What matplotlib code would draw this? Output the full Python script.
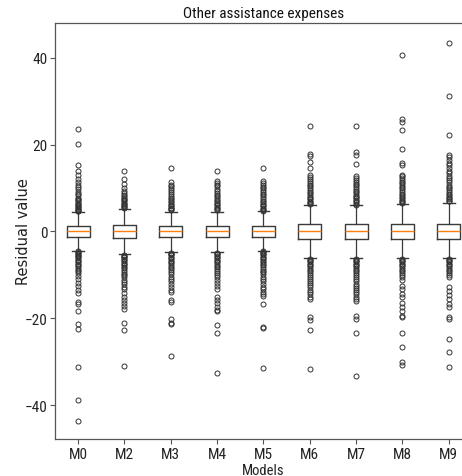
import matplotlib
matplotlib.use("Agg")
import matplotlib.pyplot as plt

NARROW = ["Roboto Condensed", "Noto Sans Condensed", "Open Sans Condensed",
          "Liberation Sans Narrow", "DejaVu Sans Condensed", "Noto Sans", "DejaVu Sans"]

# -- Data -------------------------------------------------------------------
models = ["M0", "M2", "M3", "M4", "M5", "M6", "M7", "M8", "M9"]
med    = [0.0, 0.0, 0.0, 0.0, 0.0, 0.05, 0.05, 0.05, 0.05]
q1     = [-1.2, -1.45, -1.3, -1.3, -1.2, -1.7, -1.7, -1.7, -1.7]
q3     = [1.2, 1.45, 1.15, 1.15, 1.2, 1.8, 1.8, 1.8, 1.8]
whislo = [-4.5, -5.3, -4.7, -4.7, -4.5, -6.2, -6.2, -6.2, -6.2]
whishi = [4.5, 5.1, 4.5, 4.5, 4.8, 6.0, 6.0, 6.4, 6.5]

fl_m0 = [23.6, 20.2, 15.4, 13.9, 12.9, 12.0, 11.4, 10.8, 10.3, 9.7, 9.2, 8.7, 8.3,
         7.8, 7.5, 7.2, 6.9, 6.6, 6.3, 6.0, 5.8, 5.6, 5.4, 5.2, 5.0, 4.8, 4.7,
         -4.6, -4.8, -5.0, -5.2, -5.4, -5.7, -5.9, -6.2, -6.5, -6.8, -7.1, -7.4,
         -7.7, -8.0, -8.4, -8.8, -9.2, -9.6, -10.3, -11.0, -11.8, -12.6, -13.4,
         -14.1, -16.2, -16.8, -18.3, -21.4, -22.5, -31.3, -38.9, -43.6]
fl_m2 = [13.9, 12.0, 11.0, 10.1, 9.3, 8.9, 8.5, 8.1, 7.8, 7.5, 7.2, 6.9, 6.6, 6.3,
         6.1, 5.9, 5.7, 5.5,
         -5.4, -5.6, -5.8, -6.0, -6.3, -6.6, -6.9, -7.2, -7.5, -7.8, -8.1, -8.5,
         -8.9, -9.3, -9.7, -10.1, -10.6, -11.1, -11.6, -12.1, -12.7, -13.3, -14.2,
         -15.0, -15.8, -16.5, -17.2, -17.9, -21.0, -22.7, -31.0]
fl_m3 = [14.5, 11.3, 10.8, 10.4, 10.0, 9.5, 9.0, 8.6, 8.2, 7.8, 7.4, 7.0, 6.7, 6.4,
         6.1, 5.8, 5.5, 5.3, 5.1, 4.9,
         -4.9, -5.1, -5.3, -5.5, -5.8, -6.1, -6.4, -6.7, -7.0, -7.3, -7.7, -8.1,
         -8.5, -8.9, -9.4, -9.9, -10.4, -10.9, -11.5, -12.1, -12.8, -13.4, -14.0,
         -15.8, -16.2, -20.2, -21.0, -21.4, -28.7]
fl_m4 = [13.9, 11.7, 11.2, 10.8, 10.4, 9.7, 9.3, 8.9, 8.5, 8.1, 7.7, 7.3, 6.9, 6.6,
         6.3, 6.0, 5.7, 5.4, 5.2, 5.0,
         -4.9, -5.1, -5.3, -5.6, -5.9, -6.2, -6.5, -6.8, -7.1, -7.5, -7.9, -8.3,
         -8.7, -9.1, -9.6, -10.1, -10.6, -11.2, -11.8, -12.5, -13.3, -15.2, -15.8,
         -16.5, -17.3, -18.0, -18.3, -21.6, -23.5, -32.7]
fl_m5 = [14.5, 11.6, 11.1, 10.7, 10.3, 9.9, 9.5, 9.1, 8.7, 8.3, 7.9, 7.5, 7.1, 6.7,
         6.4, 6.1, 5.8, 5.5, 5.2, 5.0, 4.8,
         -4.5, -4.7, -4.9, -5.2, -5.5, -5.8, -6.1, -6.4, -6.7, -7.0, -7.4, -7.8,
         -8.2, -8.6, -9.0, -9.4, -9.9, -10.4, -10.9, -11.5, -12.1, -12.7, -13.3,
         -14.0, -14.5, -14.9, -16.8, -21.9, -22.3, -31.5]
fl_m6 = [24.4, 17.9, 17.3, 16.0, 14.6, 13.1, 12.6, 12.1, 11.6, 11.2, 10.8, 10.4,
         10.0, 9.6, 9.2, 8.8, 8.4, 8.0, 7.7, 7.4, 7.1, 6.8, 6.5, 6.3,
         -6.3, -6.5, -6.8, -7.1, -7.4, -7.7, -8.0, -8.4, -8.8, -9.2, -9.6, -10.0,
         -10.4, -10.9, -11.4, -11.9, -12.4, -12.9, -13.4, -13.9, -14.4, -15.0,
         -15.6, -19.8, -20.4, -22.7, -31.7]
fl_m7 = [24.4, 18.2, 17.6, 15.6, 12.7, 12.2, 11.8, 11.4, 11.0, 10.6, 10.2, 9.8,
         9.4, 9.0, 8.6, 8.2, 7.9, 7.6, 7.3, 7.0, 6.7, 6.4, 6.2,
         -6.3, -6.5, -6.8, -7.1, -7.4, -7.7, -8.0, -8.4, -8.8, -9.2, -9.6, -10.0,
         -10.5, -11.0, -11.5, -12.0, -12.5, -13.0, -13.5, -14.0, -14.5, -15.0,
         -15.6, -16.1, -19.5, -20.1, -23.5, -33.4]
fl_m8 = [40.7, 26.0, 25.2, 23.3, 18.9, 15.8, 15.4, 13.1, 12.7, 12.3, 11.9, 11.5,
         11.1, 10.7, 10.3, 9.9, 9.5, 9.1, 8.7, 8.3, 7.9, 7.6, 7.3, 7.0, 6.7, 6.5,
         -6.3, -6.5, -6.8, -7.1, -7.4, -7.7, -8.0, -8.4, -8.8, -9.2, -9.6, -10.1,
         -10.6, -11.1, -12.6, -13.3, -14.5, -15.2, -16.4, -17.5, -18.3, -19.5,
         -19.8, -23.5, -26.5, -30.0, -30.7]
fl_m9 = [43.4, 31.1, 22.3, 17.5, 17.1, 16.4, 15.8, 15.2, 14.6, 14.0, 13.4, 12.8,
         12.3, 11.8, 11.3, 10.8, 10.3, 9.9, 9.5, 9.1, 8.7, 8.3, 8.0, 7.7, 7.4,
         7.1, 6.9,
         -6.3, -6.5, -6.8, -7.1, -7.4, -7.7, -8.0, -8.4, -8.8, -9.2, -9.6, -10.0,
         -10.6, -12.9, -13.7, -14.7, -15.5, -16.8, -17.5, -19.8, -20.2, -24.8,
         -27.7, -31.3]
fliers = [fl_m0, fl_m2, fl_m3, fl_m4, fl_m5, fl_m6, fl_m7, fl_m8, fl_m9]

y_ticks = [-40, -20, 0, 20, 40]

stats = [dict(label=m, med=md, q1=a, q3=b, whislo=lo, whishi=hi, fliers=f)
         for m, md, a, b, lo, hi, f in zip(models, med, q1, q3, whislo, whishi, fliers)]

# -- Figure -----------------------------------------------------------------
fig = plt.figure(figsize=(4.62, 4.77), dpi=100)
# axes runs past the right edge: reference image is cropped there
ax = fig.add_axes([0.119, 0.0776, 0.9026, 0.872])

LC = "#3a3a3a"
ax.bxp(stats, positions=range(1, len(models) + 1), widths=0.5,
       boxprops=dict(color=LC, lw=1.0),
       whiskerprops=dict(color=LC, lw=0.9),
       capprops=dict(color=LC, lw=1.0),
       medianprops=dict(color="#ff7f0e", lw=1.0),
       flierprops=dict(marker="o", markersize=3.6, markerfacecolor="none",
                       markeredgecolor="#333333", markeredgewidth=0.7))

ax.set_xlim(0.5, 9.5)
ax.set_ylim(-47.8, 48)
ax.set_yticks(y_ticks)
ax.set_xticks(range(1, len(models) + 1))
ax.set_xticklabels(models)

for s in ax.spines.values():
    s.set_color("#555555")
    s.set_linewidth(0.9)
ax.tick_params(colors="#555555", length=3.5, width=0.8, pad=2)
for lab in ax.get_xticklabels() + ax.get_yticklabels():
    lab.set_family(NARROW)
    lab.set_stretch("condensed")
    lab.set_fontsize(11)
    lab.set_color("#222222")

ax.set_title("Other assistance expenses", family=NARROW, stretch="condensed",
             fontsize=11, color="#111111", pad=4)
ax.set_xlabel("Models", family=NARROW, stretch="condensed", fontsize=10.5,
              color="#222222", labelpad=2)
ax.set_ylabel("Residual value", family="DejaVu Sans", fontsize=10.5,
              color="#222222")
ax.yaxis.set_label_coords(-0.058, 0.5)

fig.savefig("out.png", dpi=100, facecolor="white")
plt.close(fig)
